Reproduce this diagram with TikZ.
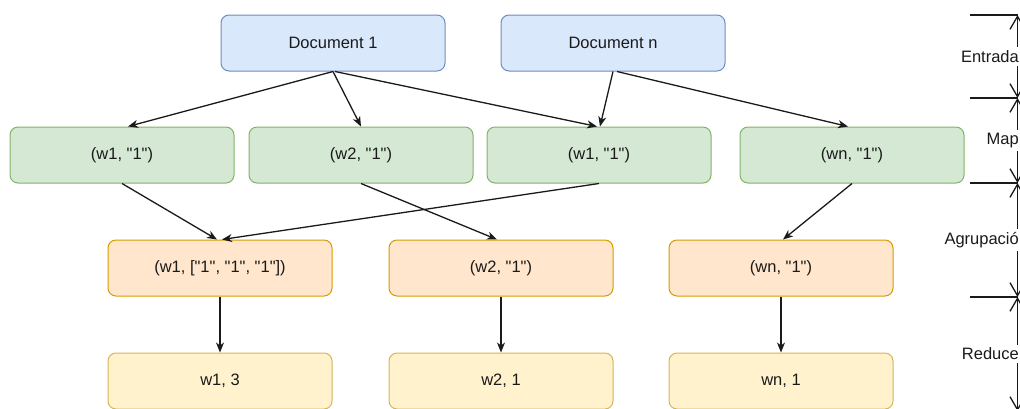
\documentclass[tikz,border=0pt]{standalone}
\usepackage{fontspec}
\setmainfont{Liberation Sans}
\usetikzlibrary{arrows.meta}

\definecolor{docfill}{HTML}{DAE8FC}\definecolor{docline}{HTML}{6C8EBF}
\definecolor{mapfill}{HTML}{D5E8D4}\definecolor{mapline}{HTML}{82B366}
\definecolor{grpfill}{HTML}{FFE6CC}\definecolor{grpline}{HTML}{D79B00}
\definecolor{redfill}{HTML}{FFF2CC}\definecolor{redline}{HTML}{D6B656}
\definecolor{ink}{HTML}{1A1A1A}

% straight double quote
\newcommand{\dq}{\textquotedbl}

\tikzset{
  box/.style={rounded corners=8pt, minimum width=224pt, minimum height=56pt,
              inner sep=0pt, line width=1pt, text=ink,
              font=\fontsize{16.5}{20}\selectfont},
  docbox/.style={box, fill=docfill, draw=docline},
  mapbox/.style={box, fill=mapfill, draw=mapline},
  grpbox/.style={box, fill=grpfill, draw=grpline},
  redbox/.style={box, fill=redfill, draw=redline},
  flow/.style={line width=1.3pt, ink, -{Stealth[length=10pt, width=8pt, inset=3pt]}},
  phase/.style={line width=1.3pt, ink,
                {Straight Barb[length=13pt, width=15pt, line width=1.3pt]}-{Straight Barb[length=13pt, width=15pt, line width=1.3pt]}},
  tick/.style={line width=1.3pt, ink},
  phaselabel/.style={fill=white, inner xsep=1pt, inner ysep=3pt, anchor=east, text=ink,
                     font=\fontsize{16.5}{20}\selectfont}
}

\begin{document}
\begin{tikzpicture}[x=1pt, y=-1pt]
  \useasboundingbox (0,0) rectangle (1020,408);
  \clip (0,0) rectangle (1020,408);

  % input documents
  \node[docbox] (doc1) at (333,43) {Document 1};
  \node[docbox] (docn) at (613,43) {Document n};

  % map outputs
  \node[mapbox] (map1) at (122,155) {(w1, \dq1\dq)};
  \node[mapbox] (map2) at (361,155) {(w2, \dq1\dq)};
  \node[mapbox] (map3) at (599,155) {(w1, \dq1\dq)};
  \node[mapbox] (map4) at (852,155) {(wn, \dq1\dq)};

  % grouped keys
  \node[grpbox] (grp1) at (220,268) {(w1, [\dq1\dq, \dq1\dq, \dq1\dq])};
  \node[grpbox] (grp2) at (501,268) {(w2, \dq1\dq)};
  \node[grpbox] (grp3) at (781,268) {(wn, \dq1\dq)};

  % reduced results
  \node[redbox] (red1) at (220,381) {w1, 3};
  \node[redbox] (red2) at (501,381) {w2, 1};
  \node[redbox] (red3) at (781,381) {wn, 1};

  % document -> map
  \draw[flow] (doc1.south) -- ([xshift=6pt]map1.north);
  \draw[flow] (doc1.south) -- (map2.north);
  \draw[flow] ([xshift=2pt]doc1.south) -- ([xshift=-2pt]map3.north);
  \draw[flow] (docn.south) -- ([xshift=1pt]map3.north);
  \draw[flow] ([xshift=4pt]docn.south) -- ([xshift=-4pt]map4.north);

  % map -> grouping
  \draw[flow] (map1.south) -- ([xshift=-3pt]grp1.north);
  \draw[flow] (map3.south) -- ([xshift=2pt]grp1.north);
  \draw[flow] (map2.south) -- ([xshift=-4pt]grp2.north);
  \draw[flow] (map4.south) -- ([xshift=2pt]grp3.north);

  % grouping -> reduce
  \draw[flow] (grp1.south) -- (red1.north);
  \draw[flow] (grp2.south) -- (red2.north);
  \draw[flow] (grp3.south) -- (red3.north);

  % phase scale on the right
  \coordinate (p0) at (1017.5,15);
  \coordinate (p1) at (1017.5,98);
  \coordinate (p2) at (1017.5,183);
  \coordinate (p3) at (1017.5,297);
  \coordinate (p4) at (1017.5,411);
  \foreach \p in {p0,p1,p2,p3,p4} \draw[tick] (\p) -- ++(-48,0);
  \draw[phase] (p0) -- (p1);
  \draw[phase] (p1) -- (p2);
  \draw[phase] (p2) -- (p3);
  \draw[phase] (p3) -- (p4);
  \node[phaselabel] (lin)  at (1020,56.5)  {Entrada};
  \node[phaselabel] (lmap) at (1020,140.5) {Map};
  \node[phaselabel] (lgrp) at (1020,240)   {Agrupació};
  \node[phaselabel] (lred) at (1020,354)   {Reduce};
\end{tikzpicture}
\end{document}
